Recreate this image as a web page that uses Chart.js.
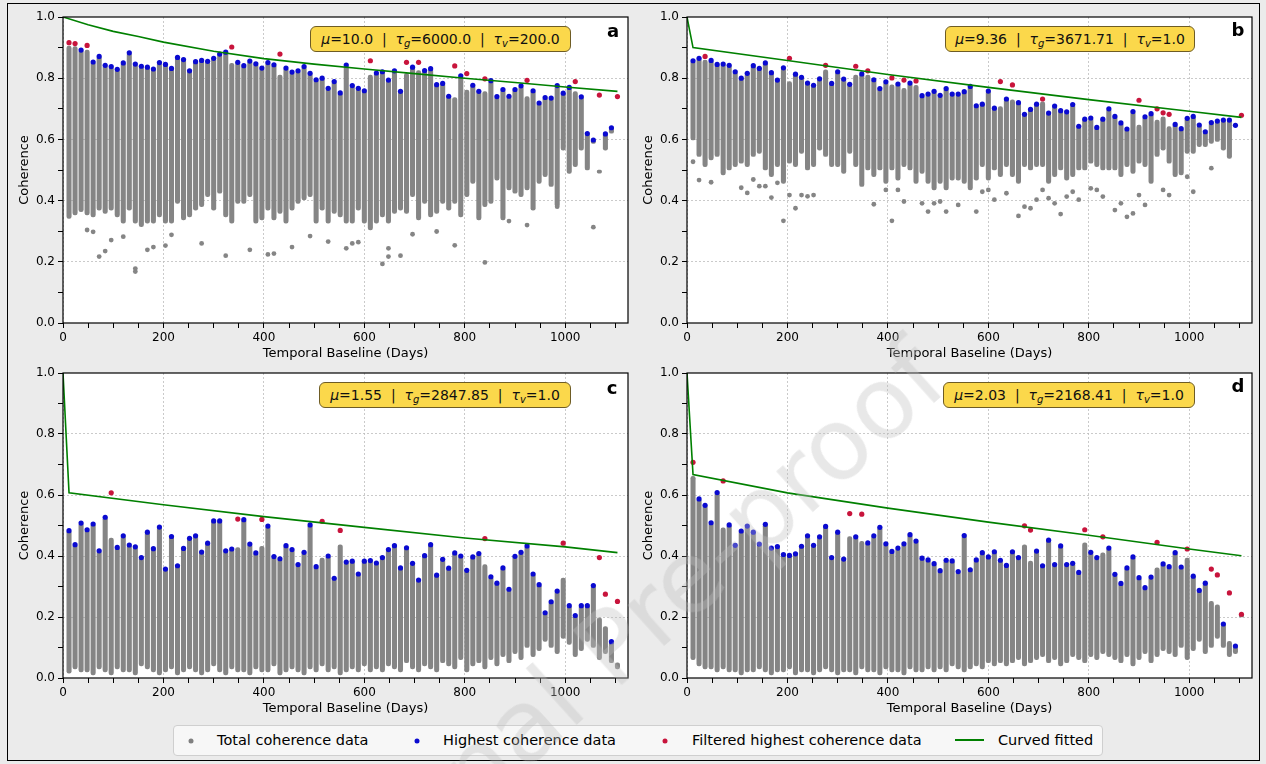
<!DOCTYPE html>
<html>
<head>
<meta charset="utf-8">
<script src="https://cdn.jsdelivr.net/npm/chart.js@4.4.1/dist/chart.umd.min.js"></script>
<style>
    html, body { margin: 0; padding: 0; }
    body { width: 1266px; height: 764px; background: #ebebeb; position: relative; overflow: hidden; font-family: 'DejaVu Sans', sans-serif; color: #000; }
    #frame { position: absolute; left: 7px; top: 3px; width: 1253px; height: 758px; border: 1.5px solid #000; box-sizing: border-box; }
    canvas { position: absolute; }
    .param { position: absolute; height: 26px; box-sizing: border-box; background: #fbd84b; border: 1px solid #6e5c25; border-radius: 6px; font-size: 14px; line-height: 24px; text-align: center; white-space: nowrap; color: #111; }
    .param sub { font-size: 10px; line-height: 0; vertical-align: -3px; }
    .letter { position: absolute; font-weight: bold; font-size: 18px; transform: translate(-50%, -50%); }
    #legend { position: absolute; left: 173px; top: 725px; width: 930px; height: 31px; box-sizing: border-box; background: #f7f7f7; border: 1px solid #cfcfcf; border-radius: 4px; }
    .ldot { position: absolute; width: 5px; height: 5px; border-radius: 50%; transform: translate(-50%, -50%); }
    .ltxt { position: absolute; font-size: 14.5px; transform: translateY(-50%); white-space: nowrap; }
    #mark { position: absolute; left: 620px; top: 640px; font-size: 100px; line-height: 1; white-space: nowrap; color: rgba(190, 190, 190, 0.35); transform: translate(-50%, -50%) rotate(-42deg); pointer-events: none; }
</style>
</head>
<body>
<div id="frame"></div>

<canvas id="cA" width="628" height="362" style="left:8px;top:5px"></canvas>
<canvas id="cB" width="628" height="362" style="left:632px;top:5px"></canvas>
<canvas id="cC" width="628" height="361" style="left:8px;top:361px"></canvas>
<canvas id="cD" width="628" height="361" style="left:632px;top:361px"></canvas>

<div class="param" style="left:310px;top:26px;width:261px"><i>μ</i>=10.0 &nbsp;|&nbsp; <i>τ</i><sub><i>g</i></sub>=6000.0 &nbsp;|&nbsp; <i>τ</i><sub><i>v</i></sub>=200.0</div>
<div class="param" style="left:945px;top:26px;width:250px"><i>μ</i>=9.36 &nbsp;|&nbsp; <i>τ</i><sub><i>g</i></sub>=3671.71 &nbsp;|&nbsp; <i>τ</i><sub><i>v</i></sub>=1.0</div>
<div class="param" style="left:319px;top:382px;width:252px"><i>μ</i>=1.55 &nbsp;|&nbsp; <i>τ</i><sub><i>g</i></sub>=2847.85 &nbsp;|&nbsp; <i>τ</i><sub><i>v</i></sub>=1.0</div>
<div class="param" style="left:943px;top:382px;width:252px"><i>μ</i>=2.03 &nbsp;|&nbsp; <i>τ</i><sub><i>g</i></sub>=2168.41 &nbsp;|&nbsp; <i>τ</i><sub><i>v</i></sub>=1.0</div>

<div class="letter" style="left:613px;top:30px">a</div>
<div class="letter" style="left:1238px;top:29px">b</div>
<div class="letter" style="left:612px;top:387px">c</div>
<div class="letter" style="left:1238px;top:385px">d</div>

<div id="legend"></div>
<div class="ldot" style="left:191px;top:741px;background:#808080"></div>
<div class="ltxt" style="left:217px;top:740px">Total coherence data</div>
<div class="ldot" style="left:417px;top:741px;background:#0a0ad0"></div>
<div class="ltxt" style="left:443px;top:740px">Highest coherence data</div>
<div class="ldot" style="left:665px;top:741px;background:#c8143c"></div>
<div class="ltxt" style="left:692px;top:740px">Filtered highest coherence data</div>
<div style="position:absolute;left:955px;top:739px;width:29px;height:2px;background:#008000"></div>
<div class="ltxt" style="left:998px;top:740px">Curved fitted</div>

<div id="mark">Journal Pre-proof</div>

<script>
// temporal baselines of the interferogram columns (days)
const days = [12,24,36,48,60,72,84,96,108,120,132,144,156,168,180,192,204,216,228,240,
    252,264,276,288,300,312,324,336,348,360,372,384,396,408,420,432,444,456,468,480,
    492,504,516,528,540,552,564,576,588,600,612,624,636,648,660,672,684,696,708,720,
    732,744,756,768,780,792,804,816,828,840,852,864,876,888,900,912,924,936,948,960,
    972,984,996,1008,1020,1032,1044,1056,1068,1080,1092,1104];

const xTicks = [0,50,100,150,200,250,300,350,400,450,500,550,600,650,700,750,800,850,900,950,1000,1050,1100];
const xLabels = [0,200,400,600,800,1000];
const yTicks = [0,0.1,0.2,0.3,0.4,0.5,0.6,0.7,0.8,0.9,1];
const yLabels = [0,0.2,0.4,0.6,0.8,1];

// ---- panel a ----
const highA = [0.916,0.913,0.892,0.907,0.853,0.871,0.842,0.838,0.829,0.850,
    0.883,0.846,0.839,0.836,0.830,0.851,0.845,0.832,0.868,0.861,
    0.824,0.854,0.858,0.855,0.865,0.879,0.885,0.902,0.852,0.841,
    0.856,0.847,0.833,0.851,0.844,0.879,0.833,0.820,0.824,0.838,
    0.816,0.795,0.800,0.767,0.789,0.752,0.843,0.776,0.767,0.759,
    0.857,0.817,0.821,0.794,0.824,0.757,0.852,0.836,0.852,0.825,
    0.831,0.779,0.783,0.741,0.840,0.808,0.815,0.777,0.757,0.798,
    0.792,0.740,0.763,0.741,0.763,0.775,0.793,0.759,0.719,0.737,
    0.735,0.776,0.751,0.770,0.789,0.739,0.619,0.598,0.745,0.618,
    0.638,0.740];
const lowA = [0.342,0.353,0.364,0.353,0.347,0.369,0.358,0.369,0.347,0.326,
    0.369,0.326,0.315,0.326,0.326,0.347,0.326,0.326,0.391,0.337,
    0.347,0.369,0.380,0.413,0.369,0.424,0.347,0.326,0.391,0.391,
    0.413,0.326,0.337,0.369,0.337,0.358,0.326,0.369,0.391,0.402,
    0.413,0.326,0.369,0.326,0.358,0.347,0.326,0.326,0.369,0.326,
    0.304,0.326,0.347,0.326,0.358,0.369,0.358,0.413,0.337,0.391,
    0.347,0.358,0.391,0.369,0.391,0.347,0.413,0.456,0.337,0.380,
    0.391,0.467,0.337,0.435,0.424,0.413,0.435,0.369,0.456,0.478,
    0.446,0.380,0.565,0.489,0.511,0.565,0.500,0.587,0.490,0.565,
    0.620,0.740];
const filtA = [12,24,48,336,432,612,684,708,780,804,840,924,1020,1068,1104];
const capA = [0.905,0.903,0.892,0.849,0.810,0.810,0.816,0.825,0.737,0.761,0.756,0.740,0.756,0.500,0.740];
const outDaysA = [72,84,96,144,144,168,180,204,216,276,324,372,408,420,456,48,60,120,492,528,
    564,576,588,636,648,648,672,696,744,780,840,888,924,984,1056];
const outA = [0.217,0.235,0.271,0.168,0.178,0.239,0.248,0.253,0.288,0.260,0.220,0.239,0.224,0.227,0.248,0.304,0.298,0.282,0.284,0.266,
    0.244,0.260,0.264,0.193,0.217,0.244,0.220,0.290,0.299,0.254,0.198,0.333,0.320,0.380,0.313];
const fitDaysA = [0,50,100,150,200,300,400,500,600,700,800,900,1000,1104];
const fitA = [1.0,0.975,0.953,0.936,0.918,0.888,0.864,0.846,0.830,0.815,0.800,0.786,0.771,0.757];

// ---- panel b ----
const highB = [0.857,0.865,0.871,0.858,0.845,0.846,0.842,0.821,0.800,0.816,
    0.841,0.832,0.850,0.818,0.794,0.834,0.865,0.813,0.803,0.784,
    0.777,0.798,0.842,0.783,0.821,0.797,0.780,0.839,0.814,0.824,
    0.795,0.766,0.788,0.801,0.781,0.794,0.784,0.791,0.743,0.748,
    0.757,0.744,0.766,0.748,0.748,0.756,0.773,0.710,0.715,0.758,
    0.702,0.789,0.732,0.778,0.720,0.682,0.698,0.715,0.732,0.686,
    0.709,0.694,0.690,0.714,0.643,0.666,0.670,0.639,0.666,0.700,
    0.675,0.654,0.634,0.691,0.728,0.674,0.684,0.700,0.687,0.682,
    0.649,0.635,0.669,0.675,0.647,0.625,0.655,0.660,0.663,0.663,
    0.646,0.679];
const lowB = [0.598,0.544,0.511,0.533,0.544,0.484,0.500,0.511,0.522,0.511,
    0.544,0.554,0.500,0.478,0.511,0.456,0.522,0.511,0.554,0.500,
    0.511,0.565,0.544,0.511,0.511,0.489,0.554,0.511,0.446,0.500,
    0.478,0.500,0.456,0.500,0.467,0.511,0.500,0.456,0.489,0.456,
    0.435,0.456,0.435,0.467,0.467,0.456,0.435,0.467,0.511,0.467,
    0.500,0.478,0.511,0.478,0.456,0.511,0.500,0.511,0.511,0.456,
    0.478,0.500,0.467,0.478,0.500,0.500,0.522,0.511,0.500,0.500,
    0.500,0.478,0.511,0.489,0.522,0.511,0.456,0.544,0.565,0.522,
    0.478,0.484,0.554,0.554,0.576,0.576,0.587,0.593,0.565,0.538,
    0.646,0.679];
const filtB = [36,204,276,336,360,408,432,456,624,648,708,900,936,948,960,1104];
const capB = [0.859,0.789,0.827,0.810,0.810,0.778,0.767,0.777,0.707,0.729,0.723,0.647,0.663,0.674,0.642,0.679];
const outDaysB = [12,24,48,108,120,132,144,156,168,180,192,204,216,228,240,252,372,396,408,420,
    432,468,480,492,504,516,540,576,588,600,612,636,660,672,684,696,708,720,732,744,
    756,768,780,804,816,828,852,864,876,888,900,912,948,960,996,1008,1044];
const outB = [0.527,0.467,0.460,0.442,0.425,0.469,0.447,0.447,0.410,0.458,0.334,0.418,0.375,0.418,0.414,0.418,0.388,0.435,0.334,0.435,
    0.397,0.391,0.364,0.391,0.397,0.364,0.386,0.364,0.429,0.435,0.403,0.424,0.350,0.380,0.375,0.403,0.435,0.408,0.391,0.356,
    0.413,0.429,0.403,0.440,0.435,0.413,0.369,0.391,0.347,0.358,0.418,0.386,0.435,0.418,0.478,0.429,0.506];
const fitDaysB = [0,12,200,400,600,800,1000,1104];
const fitB = [1.0,0.900,0.858,0.812,0.770,0.730,0.692,0.672];

// ---- panel c ----
const highC = [0.483,0.437,0.508,0.486,0.505,0.417,0.527,0.607,0.428,0.466,
    0.436,0.430,0.395,0.478,0.424,0.495,0.357,0.464,0.368,0.425,
    0.458,0.466,0.413,0.442,0.515,0.515,0.417,0.423,0.521,0.519,
    0.439,0.410,0.520,0.498,0.398,0.391,0.434,0.421,0.372,0.412,
    0.502,0.365,0.514,0.400,0.327,0.484,0.380,0.383,0.341,0.383,
    0.385,0.377,0.395,0.421,0.434,0.361,0.427,0.376,0.321,0.401,
    0.437,0.337,0.389,0.360,0.410,0.400,0.353,0.397,0.408,0.457,
    0.332,0.311,0.361,0.291,0.399,0.412,0.433,0.341,0.306,0.214,
    0.250,0.285,0.442,0.237,0.205,0.237,0.237,0.303,0.395,0.275,
    0.119,0.251];
const lowC = [0.016,0.03,0.02,0.02,0.01,0.03,0.02,0.01,0.03,0.02,
    0.02,0.01,0.04,0.03,0.02,0.01,0.02,0.03,0.01,0.02,
    0.03,0.02,0.01,0.02,0.04,0.02,0.01,0.03,0.02,0.02,
    0.01,0.03,0.02,0.02,0.04,0.01,0.02,0.03,0.02,0.01,
    0.03,0.02,0.04,0.02,0.03,0.01,0.02,0.03,0.02,0.04,
    0.02,0.03,0.02,0.04,0.03,0.02,0.05,0.03,0.02,0.04,
    0.03,0.02,0.05,0.04,0.03,0.06,0.02,0.04,0.05,0.03,
    0.06,0.04,0.07,0.05,0.08,0.06,0.10,0.07,0.09,0.12,
    0.10,0.08,0.13,0.11,0.07,0.09,0.12,0.10,0.06,0.08,
    0.05,0.03];
const filtC = [96,348,396,516,552,840,996,1068,1080,1104];
const capC = [0.459,0.428,0.432,0.393,0.437,0.372,0.328,0.197,0.169,0.05];
const outDaysC = [];
const outC = [];
const fitDaysC = [0,12,200,400,600,800,1000,1104];
const fitC = [1.0,0.607,0.568,0.529,0.494,0.459,0.430,0.411];

// ---- panel d ----
const highD = [0.707,0.587,0.566,0.509,0.608,0.646,0.502,0.435,0.482,0.498,
    0.478,0.439,0.504,0.426,0.431,0.405,0.402,0.407,0.432,0.466,
    0.435,0.463,0.497,0.395,0.478,0.390,0.539,0.463,0.537,0.443,
    0.466,0.494,0.440,0.415,0.426,0.440,0.470,0.449,0.393,0.387,
    0.375,0.352,0.386,0.384,0.349,0.467,0.355,0.387,0.411,0.397,
    0.414,0.386,0.369,0.414,0.395,0.499,0.485,0.416,0.368,0.452,
    0.372,0.433,0.372,0.376,0.346,0.486,0.412,0.395,0.463,0.426,
    0.340,0.310,0.361,0.397,0.329,0.296,0.331,0.445,0.374,0.365,
    0.411,0.364,0.423,0.334,0.287,0.311,0.357,0.338,0.177,0.279,
    0.105,0.209];
const lowD = [0.06,0.04,0.03,0.03,0.02,0.03,0.02,0.02,0.01,0.02,
    0.02,0.03,0.02,0.01,0.02,0.02,0.03,0.01,0.02,0.02,
    0.01,0.02,0.03,0.02,0.01,0.02,0.02,0.01,0.03,0.02,
    0.02,0.01,0.03,0.02,0.02,0.01,0.03,0.02,0.02,0.03,
    0.02,0.03,0.02,0.04,0.03,0.02,0.03,0.04,0.03,0.05,
    0.04,0.05,0.04,0.05,0.06,0.04,0.05,0.06,0.07,0.05,
    0.06,0.04,0.05,0.07,0.06,0.05,0.07,0.06,0.08,0.07,
    0.06,0.05,0.07,0.04,0.06,0.08,0.05,0.07,0.09,0.08,
    0.07,0.10,0.06,0.09,0.12,0.08,0.10,0.13,0.10,0.07,
    0.08,0.20];
const filtD = [12,72,324,348,672,684,792,828,936,996,1044,1056,1080,1104];
const capD = [0.661,0.492,0.464,0.448,0.437,0.383,0.443,0.410,0.361,0.393,0.251,0.240,0.120,0.209];
const outDaysD = [];
const outD = [];
const fitDaysD = [0,12,200,400,600,800,1000,1104];
const fitD = [1.0,0.667,0.607,0.557,0.511,0.468,0.423,0.401];

const GRAY = '#858585', BLUE = '#0a0ad0', RED = '#c8143c', GREEN = '#008000';

Chart.defaults.font.family = "'DejaVu Sans', sans-serif";
Chart.defaults.color = '#000';

// white plot area + black box round it, like matplotlib spines
const framePlugin = {
    id: 'frame',
    beforeDraw(chart) {
        const { ctx, chartArea: a } = chart;
        ctx.save();
        ctx.fillStyle = '#fff';
        ctx.fillRect(a.left, a.top, a.right - a.left, a.bottom - a.top);
        ctx.restore();
    },
    afterDatasetsDraw(chart) {
        const { ctx, chartArea: a } = chart;
        ctx.save();
        ctx.strokeStyle = '#000';
        ctx.lineWidth = 1.2;
        ctx.strokeRect(a.left, a.top, a.right - a.left, a.bottom - a.top);
        ctx.restore();
    }
};

function gridColor(labels) {
    return (c) => {
        const v = c.tick ? c.tick.value : null;
        return labels.includes(v) ? '#bdbdbd' : 'rgba(0,0,0,0)';
    };
}

function renderPanel(p) {
    const bars = [], blue = [], red = [];
    days.forEach((d, i) => {
        const k = p.filt.indexOf(d);
        bars.push({ x: d, y: [p.low[i], k >= 0 ? p.cap[k] : p.high[i]] });
        (k >= 0 ? red : blue).push({ x: d, y: p.high[i] });
    });
    const fit = p.fitX.map((d, i) => ({ x: d, y: p.fitY[i] }));
    const out = p.outX.map((d, i) => ({ x: d, y: p.outY[i] }));

    new Chart(document.getElementById(p.id), {
        type: 'scatter',
        data: {
            datasets: [
                { type: 'line', label: 'Curved fitted', data: fit, showLine: true, borderColor: GREEN, borderWidth: 1.6,
                  pointRadius: 0, fill: false, tension: 0, order: 0 },
                { label: 'Filtered highest coherence data', data: red, backgroundColor: RED, borderWidth: 0, pointRadius: 2.6, order: 1 },
                { label: 'Highest coherence data', data: blue, backgroundColor: BLUE, borderWidth: 0, pointRadius: 2.6, order: 2 },
                { label: 'Total coherence data', data: out, backgroundColor: GRAY, borderWidth: 0, pointRadius: 2.4, order: 3 },
                { type: 'bar', label: 'Total coherence data', data: bars, backgroundColor: GRAY, barThickness: 4.4,
                  borderRadius: 2.2, borderSkipped: false, borderWidth: 0, order: 4 }
            ]
        },
        options: {
            responsive: false,
            animation: false,
            events: [],
            layout: { padding: { top: 12, right: 8, left: 0, bottom: 0 } },
            plugins: { legend: { display: false }, tooltip: { enabled: false } },
            scales: {
                x: {
                    type: 'linear', min: 0, max: 1125, offset: false,
                    afterBuildTicks: (s) => { s.ticks = xTicks.map(v => ({ value: v })); },
                    afterFit: (s) => { s.height = 44; },
                    grid: { offset: false, color: gridColor(xLabels), lineWidth: 0.8, tickColor: '#000', tickLength: 5, tickWidth: 1, tickBorderDash: [] },
                    border: { display: false, dash: [2, 2] },
                    ticks: { autoSkip: false, maxRotation: 0, padding: 3, font: { size: 12 },
                             callback: (v) => xLabels.includes(v) ? String(v) : '' },
                    title: { display: true, text: 'Temporal Baseline (Days)', font: { size: 13 }, padding: { top: 0, bottom: 6 } }
                },
                y: {
                    type: 'linear', min: 0, max: 1,
                    afterBuildTicks: (s) => { s.ticks = yTicks.map(v => ({ value: v })); },
                    afterFit: (s) => { s.width = 55; },
                    grid: { color: gridColor([0.2, 0.4, 0.6, 0.8]), lineWidth: 0.8, tickColor: '#000', tickLength: 5, tickWidth: 1, tickBorderDash: [] },
                    border: { display: false, dash: [2, 2] },
                    ticks: { autoSkip: false, padding: 3, font: { size: 12 },
                             callback: (v) => yLabels.includes(v) ? v.toFixed(1) : '' },
                    title: { display: true, text: 'Coherence', font: { size: 13 }, padding: { top: 9, bottom: 0 } }
                }
            }
        },
        plugins: [framePlugin]
    });
}

renderPanel({ id: 'cA', high: highA, low: lowA, filt: filtA, cap: capA, fitX: fitDaysA, fitY: fitA, outX: outDaysA, outY: outA });
renderPanel({ id: 'cB', high: highB, low: lowB, filt: filtB, cap: capB, fitX: fitDaysB, fitY: fitB, outX: outDaysB, outY: outB });
renderPanel({ id: 'cC', high: highC, low: lowC, filt: filtC, cap: capC, fitX: fitDaysC, fitY: fitC, outX: outDaysC, outY: outC });
renderPanel({ id: 'cD', high: highD, low: lowD, filt: filtD, cap: capD, fitX: fitDaysD, fitY: fitD, outX: outDaysD, outY: outD });
</script>
</body>
</html>
